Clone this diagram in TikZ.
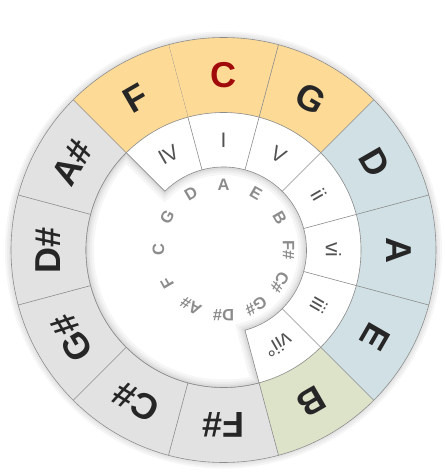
\documentclass[tikz,border=0pt]{standalone}
\usepackage{fontspec}
\setmainfont{Liberation Sans}
\usetikzlibrary{positioning}

\definecolor{keyorange}{HTML}{FDDA96}
\definecolor{keyblue}{HTML}{D0E0E4}
\definecolor{keygreen}{HTML}{DDE3C8}
\definecolor{keygrey}{HTML}{E2E2E2}
\definecolor{keyink}{HTML}{262626}
\definecolor{tonic}{HTML}{A00A0A}
\definecolor{rimline}{HTML}{8C8C8C}

% outline of the white hole in the middle
\def\holepath{(135:137.5) arc[start angle=135, end angle=285, radius=137.5] -- (285:83) arc[start angle=285, end angle=495, radius=83] -- cycle}

\begin{document}
\begin{tikzpicture}[x=1pt, y=1pt,
    keyname/.style={font=\fontsize{36}{36}\selectfont\bfseries, inner sep=0pt},
    degree/.style={font=\fontsize{21}{21}\selectfont, text=black!68, inner sep=0pt},
    note/.style={font=\fontsize{16.5}{16.5}\selectfont\bfseries, text=black!45, inner sep=0pt},
    divider/.style={draw=rimline, line width=0.6pt},
    glow/.style={line width=#1, black, opacity=0.035}
]
\useasboundingbox (-223.5,-225) rectangle (221.5,250);

% soft shadow round the wheel
\foreach \w in {12,8,4}
  \draw[glow=\w pt] (0,0) circle[radius=212.5];
\fill[white] (0,0) circle[radius=212.5];

% outer ring of keys
\foreach \k/\c/\t [count=\i from 0] in {C/keyorange/tonic, G/keyorange/keyink, D/keyblue/keyink, A/keyblue/keyink, E/keyblue/keyink, B/keygreen/keyink, F\#/keygrey/keyink, C\#/keygrey/keyink, G\#/keygrey/keyink, D\#/keygrey/keyink, A\#/keygrey/keyink, F/keyorange/keyink}{
  \pgfmathsetmacro\a{90-30*\i}
  \fill[\c] (\a-15:137.5) arc[start angle=\a-15, end angle=\a+15, radius=137.5] -- (\a+15:212.5) arc[start angle=\a+15, end angle=\a-15, radius=212.5] -- cycle;
  \draw[divider] (\a+15:137.5) -- (\a+15:212.5);
  \node[keyname, text=\t, rotate=\a-90] (key\i) at (\a:175) {\k};
}
\draw[divider] (0,0) circle[radius=212.5];
\draw[divider] (0,0) circle[radius=137.5];

% ring of scale degrees
\foreach \d/\a in {IV/120, I/90, V/60, ii/30, vi/0, iii/-30, vii°/-60}{
  \node[degree, rotate=\a-90] (deg\a) at (\a:110) {\d};
  \draw[divider] (\a+15:83) -- (\a+15:137.5);
}

% hole with inner shadow
\fill[white] \holepath;
\begin{scope}
  \clip \holepath;
  \foreach \w in {16,11,7,4}
    \draw[glow=\w pt] \holepath;
\end{scope}
\draw[divider] \holepath;

% chromatic notes round the centre
\foreach \n/\a in {A/90, E/60, B/30, F\#/0, C\#/-30, G\#/-60, D\#/-90, A\#/-120, F/-150, C/180, G/150, D/120}
  \node[note, rotate=\a-90] (note\a) at (\a:65) {\n};
\end{tikzpicture}
\end{document}
